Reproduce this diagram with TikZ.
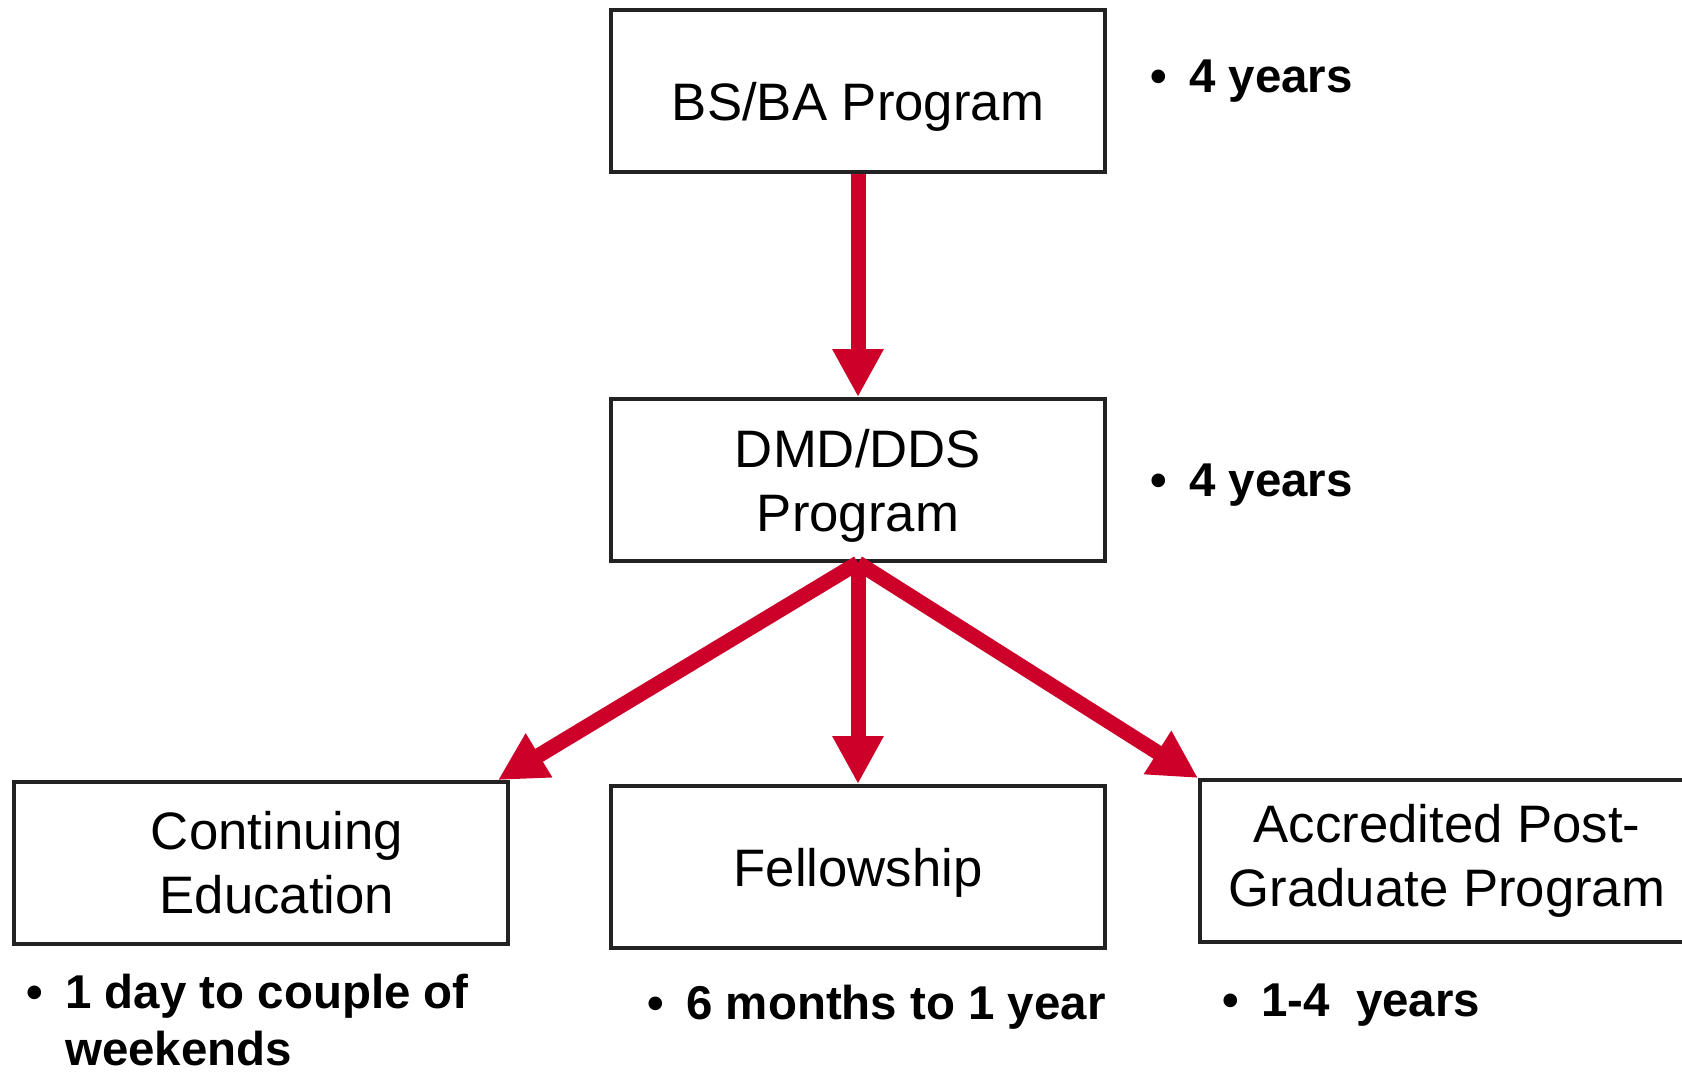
\documentclass[tikz,border=0pt]{standalone}
\usepackage{fontspec}
\setmainfont{Liberation Sans}
\usetikzlibrary{arrows.meta,positioning}
\definecolor{arrowred}{RGB}{204,0,41}
\definecolor{boxline}{RGB}{34,34,34}

\begin{document}
\begin{tikzpicture}[node distance=38.9mm,on grid,
    prog/.style={draw=boxline, line width=1.1pt, minimum width=49.4mm, minimum height=16.2mm, inner sep=0pt, align=center, font=\fontsize{15}{18.2}\selectfont},
    dur/.style={font=\bfseries\fontsize{13.5}{16.2}\selectfont, anchor=base west, align=left, inner sep=0pt},
    flow/.style={draw=arrowred, line width=1.5mm, -{Triangle[width=4.8mm,length=4.8mm]}}]
    \useasboundingbox (0,0) rectangle (168.2mm,-107.3mm);
    \clip (0,0) rectangle (168.2mm,-107.3mm);
    \node[prog, text height=5.8mm, text depth=0pt] (bsba) at (85.8mm,-9.1mm) {BS/BA Program};
    \node[prog, text depth=0pt] (dmd) [below=of bsba] {DMD/DDS\\Program};
    \node[prog, text depth=0pt] (fellow) [below=38.7mm of dmd] {Fellowship};
    \node[prog] (cont) [left=59.7mm of fellow, yshift=0.4mm] {\hspace*{3.2mm}Continuing\\\hspace*{3.2mm}Education};
    \node[prog] (accred) [right=58.9mm of fellow, yshift=0.6mm] {Accredited Post-\\Graduate Program};
    \node[dur] (bsdur) at (115.0mm,-9.2mm) {\textbullet\hspace{2.2mm}4 years};
    \node[dur] (dmddur) at (115.0mm,-49.6mm) {\textbullet\hspace{2.2mm}4 years};
    \node[dur] (contdur) at (2.6mm,-106.5mm) {\textbullet\hspace{2.2mm}1 day to couple of\\\phantom{\textbullet}\hspace{2.2mm}weekends};
    \node[dur] (felldur) at (64.7mm,-101.9mm) {\textbullet\hspace{2.2mm}6 months to 1 year};
    \node[dur] (accdur) at (122.2mm,-101.6mm) {\textbullet\hspace{2.2mm}1-4\ \ years};
    \draw[flow] (bsba) -- (dmd);
    \draw[flow] (dmd.south) -- (fellow);
    \draw[flow] (dmd.south) -- ([xshift=-1.2mm]cont.north east);
    \draw[flow] (dmd.south) -- (accred.north west);
\end{tikzpicture}
\end{document}
